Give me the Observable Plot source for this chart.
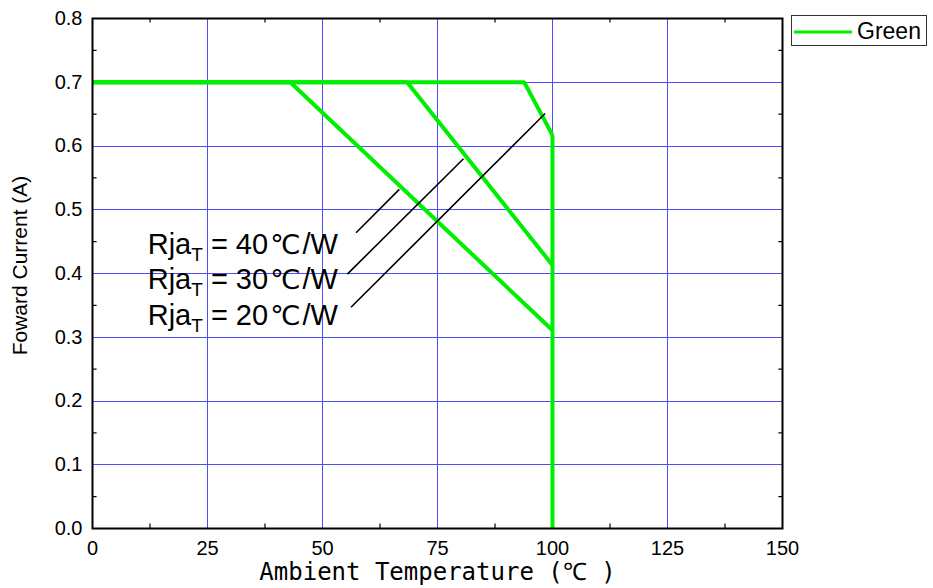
<!DOCTYPE html>
<html><head><meta charset="utf-8">
<script src="https://cdn.jsdelivr.net/npm/d3@7"></script>
<script src="https://cdn.jsdelivr.net/npm/@observablehq/plot@0.6"></script>
<style>
body{margin:0;background:#fff;}
#chart{position:relative;width:933px;height:588px;}
</style>
</head><body><div id="chart"></div>
<script>
// ---- data ----
const xTicks = [0, 25, 50, 75, 100, 125, 150];
const yTicks = [0.0, 0.1, 0.2, 0.3, 0.4, 0.5, 0.6, 0.7, 0.8];
const xMinor = [12.5, 37.5, 62.5, 87.5, 112.5, 137.5];
const yMinor = [0.05, 0.15, 0.25, 0.35, 0.45, 0.55, 0.65, 0.75];

const curve40X = [0, 43.0, 100];
const curve40Y = [0.7, 0.7, 0.311];
const curve30X = [0, 68.4, 100];
const curve30Y = [0.7, 0.7, 0.413];
const curve20X = [0, 93.85, 100];
const curve20Y = [0.7, 0.7, 0.617];
const cutoffX = [100, 100];
const cutoffY = [0.617, 0.0];

const labelRja = ["40", "30", "20"];
const labelX = [12.0, 12.0, 12.0];
const labelY = [0.430, 0.375, 0.320];
const leaderX1 = [57.3, 55.4, 56.2];
const leaderY1 = [0.464, 0.399, 0.347];
const leaderX2 = [66.7, 80.65, 98.4];
const leaderY2 = [0.532, 0.580, 0.651];

const legendName = "Green";
const xLabel = "Ambient Temperature (℃ )";
const yLabel = "Foward Current (A)";

// ---- build tables ----
const green = "#00ee00";
const series = [
  ["40", curve40X, curve40Y],
  ["30", curve30X, curve30Y],
  ["20", curve20X, curve20Y],
  ["cut", cutoffX, cutoffY]
].flatMap(([k, xs, ys]) => xs.map((x, i) => ({k, x, y: ys[i]})));
const labels = labelRja.map((r, i) => ({r, x: labelX[i], y: labelY[i]}));
const leaders = labelRja.map((r, i) => ({x1: leaderX1[i], y1: leaderY1[i], x2: leaderX2[i], y2: leaderY2[i]}));

const font = "'Liberation Sans', Arial, Helvetica, sans-serif";
const degFont = "'DejaVu Sans', sans-serif";

const chart = Plot.plot({
  width: 933, height: 588,
  marginLeft: 92, marginRight: 151, marginTop: 18, marginBottom: 60,
  x: {domain: [0, 150]},
  y: {domain: [0, 0.8]},
  style: {fontFamily: font, fontSize: "20px", color: "#000", background: "#fff"},
  marks: [
    Plot.gridX(xTicks.slice(1, -1), {stroke: "#4d4dff", strokeOpacity: 1, strokeWidth: 1, shapeRendering: "crispEdges"}),
    Plot.gridY(yTicks.slice(1, -1), {stroke: "#4d4dff", strokeOpacity: 1, strokeWidth: 1, shapeRendering: "crispEdges"}),
    Plot.line(series, {x: "x", y: "y", z: "k", stroke: green, strokeWidth: 4, strokeLinejoin: "miter", strokeLinecap: "butt"}),
    Plot.link(leaders, {x1: "x1", y1: "y1", x2: "x2", y2: "y2", stroke: "#000", strokeWidth: 1.6}),
    Plot.text(labels, {x: "x", y: "y", text: d => "Rja|" + d.r, textAnchor: "start", lineAnchor: "bottom", fontSize: 29, fill: "#000"}),
    Plot.ruleX(xMinor, {x: d => d, y1: 0, y2: 0.007, stroke: "#000", strokeWidth: 1.2}),
    Plot.ruleX(xMinor, {x: d => d, y1: 0.793, y2: 0.8, stroke: "#000", strokeWidth: 1.2}),
    Plot.ruleY(yMinor, {y: d => d, x1: 0, x2: 1, stroke: "#000", strokeWidth: 1.2}),
    Plot.ruleY(yMinor, {y: d => d, x1: 149.2, x2: 150, stroke: "#000", strokeWidth: 1.2}),
    Plot.frame({stroke: "#000", strokeWidth: 2}),
    Plot.axisX(xTicks, {tickSize: 0, tickPadding: 12, tickFormat: d => String(d), label: null, fontSize: 20}),
    Plot.axisY(yTicks, {tickSize: 0, tickPadding: 10, tickFormat: d => d.toFixed(1), label: null, fontSize: 20}),
    Plot.text([yLabel], {frameAnchor: "left", dx: -72, dy: -8, rotate: -90, textAnchor: "middle", lineAnchor: "middle", fontSize: 21, fill: "#000"}),
    Plot.text([xLabel], {frameAnchor: "bottom", dy: 44, textAnchor: "middle", lineAnchor: "middle", fontSize: 24, fill: "#000", fontFamily: "'DejaVu Sans Mono', 'Liberation Mono', monospace"})
  ]
});

// subscript formatting for the Rja labels
d3.select(chart).selectAll("text").filter(function() { return this.textContent.startsWith("Rja|"); })
  .each(function() {
    const r = this.textContent.split("|")[1];
    const t = d3.select(this);
    t.text(null);
    t.append("tspan").text("Rja");
    t.append("tspan").attr("font-size", 19).attr("dy", 7).text("T");
    t.append("tspan").attr("dy", -7).text("\u00a0= " + r);
    t.append("tspan").attr("font-family", degFont).attr("font-size", 27).attr("dx", 2).text("℃");
    t.append("tspan").attr("dx", 2).text("/W");
  });

// legend (outside the plot frame, top right)
const svg = d3.select(chart);
const lg = svg.append("g").attr("font-family", font).attr("text-anchor", "start");
lg.append("rect").attr("x", 791.5).attr("y", 15.5).attr("width", 135).attr("height", 30)
  .attr("fill", "#fff").attr("stroke", "#333").attr("stroke-width", 1);
lg.append("line").attr("x1", 794).attr("x2", 852).attr("y1", 32).attr("y2", 32)
  .attr("stroke", green).attr("stroke-width", 3);
lg.append("text").attr("x", 857).attr("y", 39).attr("font-size", 23).attr("fill", "#000").attr("text-anchor", "start").text(legendName);

document.getElementById("chart").appendChild(chart);
</script></body></html>
